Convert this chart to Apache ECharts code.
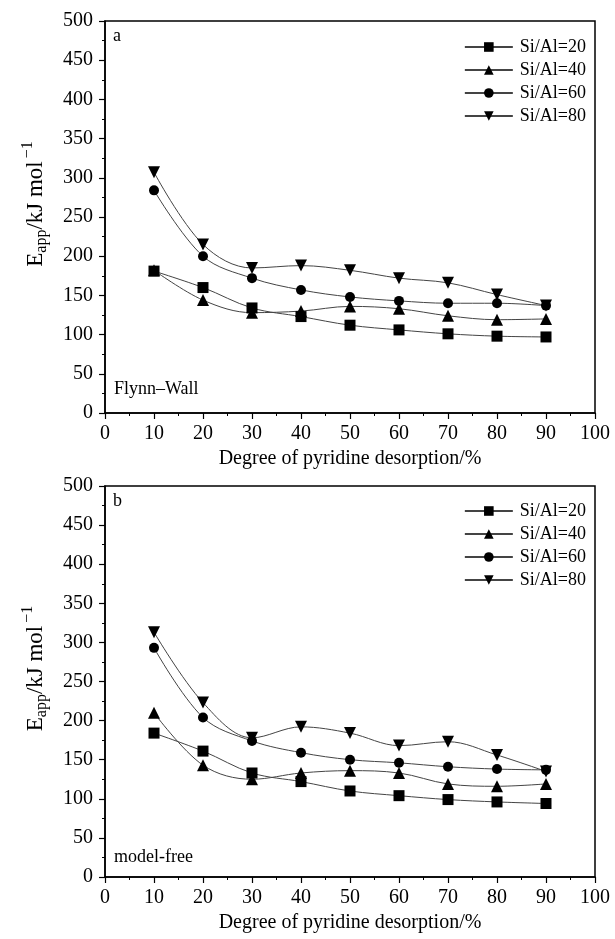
<!DOCTYPE html>
<html>
<head>
<meta charset="utf-8">
<script src="https://cdn.jsdelivr.net/npm/echarts@6/dist/echarts.min.js"></script>
<style>
  html, body { margin: 0; padding: 0; background: #fff; }
  #chart { width: 615px; height: 939px; }
</style>
</head>
<body>
<div id="chart"></div>
<script>
// degree of pyridine desorption (%)
const degree = [10, 20, 30, 40, 50, 60, 70, 80, 90];
const seriesNames = ['Si/Al=20', 'Si/Al=40', 'Si/Al=60', 'Si/Al=80'];

// (a) Flynn-Wall
const fw20 = [181, 160, 134, 123, 112, 106, 101, 98, 97];
const fw40 = [182, 144, 128, 130, 136, 133, 124, 119, 120];
const fw60 = [284, 200, 172, 157, 148, 143, 140, 140, 137];
const fw80 = [307, 215, 185, 188, 182, 172, 166, 151, 137];

// (b) model-free
const mf20 = [184, 161, 133, 122, 110, 104, 99, 96, 94];
const mf40 = [210, 143, 125, 133, 136, 133, 119, 116, 119];
const mf60 = [293, 204, 174, 159, 150, 146, 141, 138, 137];
const mf80 = [313, 223, 178, 192, 184, 168, 173, 156, 135];

const FONT = '"Liberation Serif", "Times New Roman", serif';
const symbols = ['rect', 'triangle', 'circle', 'triangle'];
const rotates = [0, 0, 0, 180];
const sizes = [11, 12, 10, 12];

const chart = echarts.init(document.getElementById('chart'), null, { renderer: 'canvas' });

function pairs(vals) {
    return degree.map((d, i) => [d, vals[i]]);
}

function makeSeries(data, gi) {
    return data.map((vals, k) => ({
        name: seriesNames[k],
        type: 'line',
        xAxisIndex: gi,
        yAxisIndex: gi,
        data: pairs(vals),
        smooth: 0.35,
        symbol: symbols[k],
        symbolRotate: rotates[k],
        symbolSize: sizes[k],
        showAllSymbol: true,
        lineStyle: { color: '#444', width: 1 },
        itemStyle: { color: '#000' },
        emphasis: { disabled: true },
        z: 3
    }));
}

function xAxis(gi) {
    return {
        type: 'value', gridIndex: gi, min: 0, max: 100, interval: 10,
        name: 'Degree of pyridine desorption/%',
        nameLocation: 'middle', nameGap: 36,
        nameTextStyle: { fontFamily: FONT, fontSize: 20, color: '#000' },
        axisLine: { lineStyle: { color: '#000', width: 1.5 } },
        axisTick: { length: 6, lineStyle: { color: '#000', width: 1.2 } },
        minorTick: { show: true, splitNumber: 2, length: 3, lineStyle: { color: '#000' } },
        axisLabel: { fontFamily: FONT, fontSize: 20, color: '#000', margin: 11 },
        splitLine: { show: false }
    };
}

function yAxis(gi) {
    return {
        type: 'value', gridIndex: gi, min: 0, max: 500, interval: 50,
        name: 'E{sub|app}/kJ mol{sup|−1}',
        nameLocation: 'middle', nameGap: 53, nameRotate: 90,
        nameTextStyle: {
            fontFamily: FONT, fontSize: 23, color: '#000',
            padding: [0, 0, 0, 26],
            rich: {
                sub: { fontFamily: FONT, fontSize: 16, color: '#000', padding: [11, 0, 0, 0] },
                sup: { fontFamily: FONT, fontSize: 16, color: '#000', padding: [0, 0, 16, 3] }
            }
        },
        axisLine: { lineStyle: { color: '#000', width: 1.5 } },
        axisTick: { length: 6, lineStyle: { color: '#000', width: 1.2 } },
        minorTick: { show: true, splitNumber: 2, length: 3, lineStyle: { color: '#000' } },
        axisLabel: { fontFamily: FONT, fontSize: 20, color: '#000', margin: 12 },
        splitLine: { show: false }
    };
}

function legend(top) {
    return {
        data: seriesNames,
        orient: 'vertical',
        right: 24,
        top: top,
        itemWidth: 48,
        itemHeight: 12,
        itemGap: 5,
        selectedMode: false,
        textStyle: { fontFamily: FONT, fontSize: 18, color: '#000', padding: [0, 0, 0, 2] }
    };
}

function label(text, left, top) {
    return {
        type: 'text', left: left, top: top,
        style: { text: text, font: '18px ' + FONT, fill: '#000' }
    };
}

chart.setOption({
    animation: false,
    backgroundColor: '#fff',
    grid: [
        { left: 105, right: 20, top: 21, height: 392, show: true, borderColor: '#000', borderWidth: 1.5 },
        { left: 105, right: 20, top: 486, height: 391, show: true, borderColor: '#000', borderWidth: 1.5 }
    ],
    xAxis: [xAxis(0), xAxis(1)],
    yAxis: [yAxis(0), yAxis(1)],
    legend: [legend(33), legend(497)],
    graphic: [
        label('a', 113, 27),
        label('Flynn–Wall', 114, 380),
        label('b', 113, 492),
        label('model-free', 114, 848)
    ],
    series: makeSeries([fw20, fw40, fw60, fw80], 0).concat(makeSeries([mf20, mf40, mf60, mf80], 1))
});
</script>
</body>
</html>
